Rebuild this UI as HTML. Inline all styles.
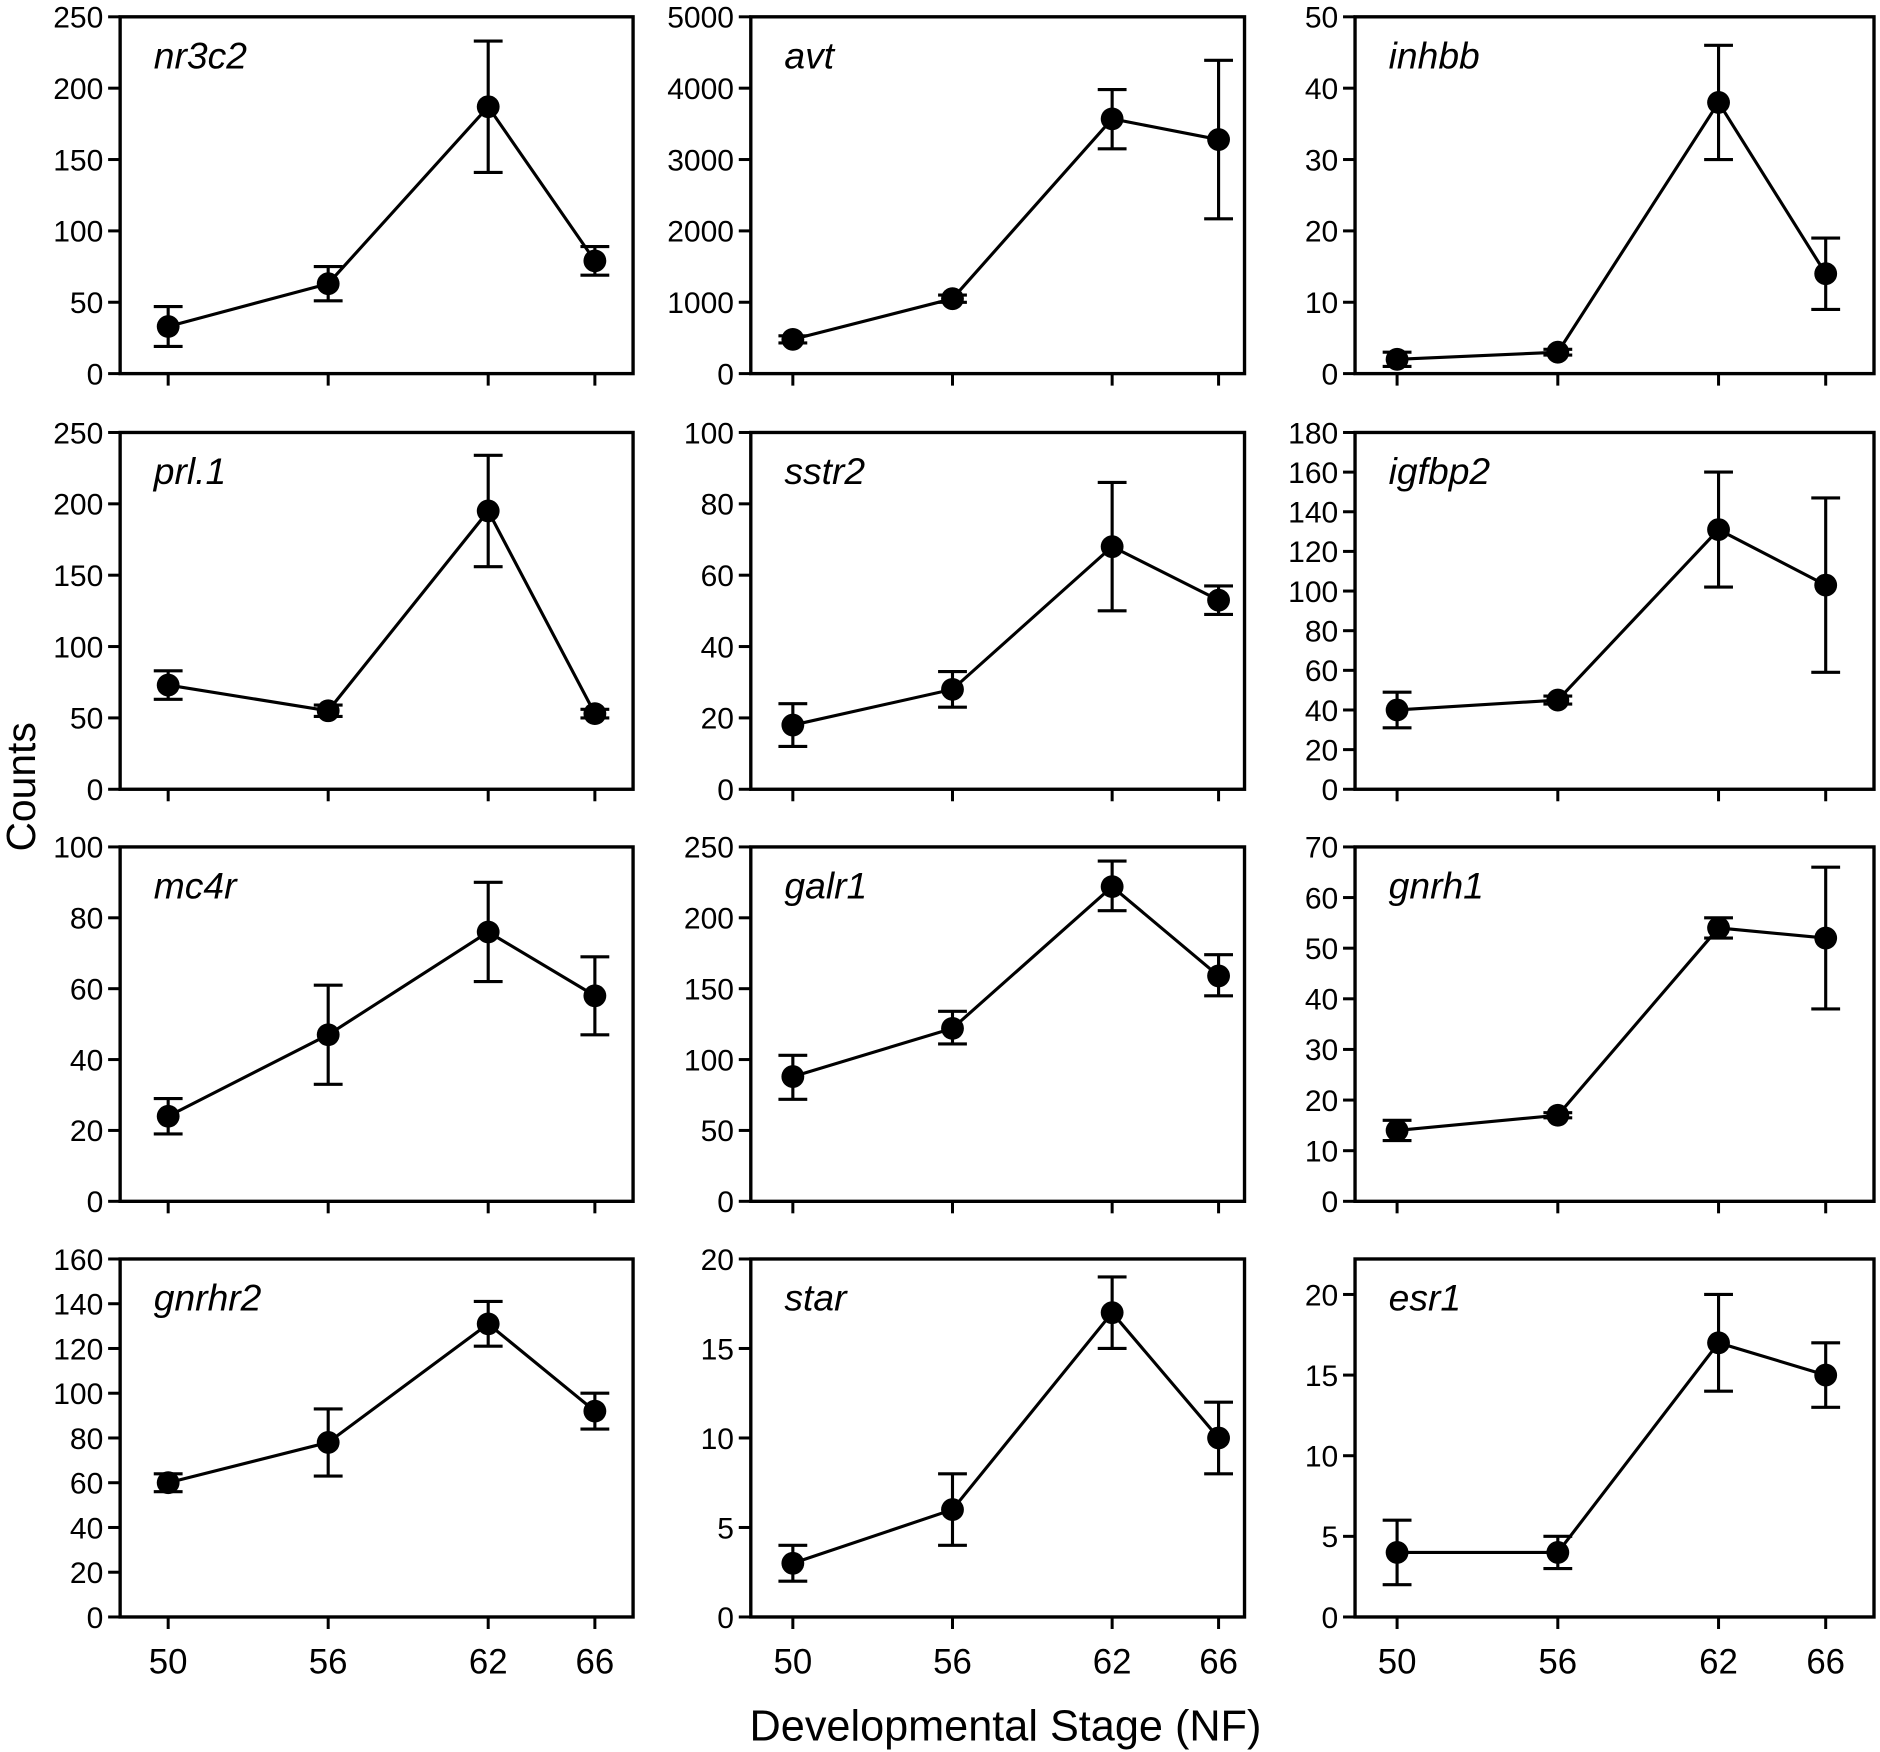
<!DOCTYPE html>
<html><head><meta charset="utf-8"><style>
html,body{margin:0;padding:0;background:#fff}
svg{display:block}
text{font-family:"Liberation Sans",Arial,sans-serif;fill:#000}
</style></head><body>
<svg id="fig" width="1880" height="1752" viewBox="0 0 1565 1458.4" preserveAspectRatio="none" xmlns="http://www.w3.org/2000/svg">
<text x="0" y="0" font-size="34" text-anchor="middle" transform="translate(29,655) rotate(-90)">Counts</text>
<text x="837" y="1449" font-size="36" text-anchor="middle">Developmental Stage (NF)</text>
</svg>
<script>
const stages = [50, 56, 62, 66];
const genes = ["nr3c2","avt","inhbb","prl.1","sstr2","igfbp2","mc4r","galr1","gnrh1","gnrhr2","star","esr1"];
const means = [[33,63,187,79],[480,1050,3570,3280],[2,3,38,14],[73,55,195,53],[18,28,68,53],[40,45,131,103],[24,47,76,58],[88,122,222,159],[14,17,54,52],[60,78,131,92],[3,6,17,10],[4,4,17,15]];
const lows = [[19,51,141,69],[430,1000,3150,2170],[1,2.6,30,9],[63,51,156,50],[12,23,50,49],[31,43,102,59],[19,33,62,47],[72,111,205,145],[12,16.5,52,38],[56,63,121,84],[2,4,15,8],[2,3,14,13]];
const highs = [[47,75,233,89],[530,1100,3980,4390],[3,3.4,46,19],[83,59,234,56],[24,33,86,57],[49,47,160,147],[29,61,90,69],[103,134,240,174],[16,17.5,56,66],[64,93,141,100],[4,8,19,12],[6,5,20,17]];
const yMaxes = [250,5000,50,250,100,180,100,250,70,160,20,22.2];
const yTickMax = [250,5000,50,250,100,180,100,250,70,160,20,20];
const yTickStep = [50,1000,10,50,20,20,20,50,10,20,5,5];
const xTickLabels = ["50","56","62","66"];

const svg = document.getElementById('fig');
const NS = 'http://www.w3.org/2000/svg';
const colL = [100,625,1128], colR = [527,1036,1560];
const colX0 = [140,660,1163], colUnit = [22.2,22.15,22.3];
const rowT = [14,360,705,1048], rowB = [311,657,1000,1346];
function mk(tag, attrs, parent){const e=document.createElementNS(NS,tag);for(const k in attrs)e.setAttribute(k,attrs[k]);(parent||svg).appendChild(e);return e;}

genes.forEach((g,i)=>{
  const c=i%3, r=Math.floor(i/3);
  const L=colL[c], R=colR[c], T=rowT[r], B=rowB[r];
  const x0 = colX0[c], unit=colUnit[c];
  const xs = s => x0+(s-50)*unit;
  const ys = v => B-(v/yMaxes[i])*(B-T);
  const grp = mk('g',{});
  
  
  const fr = mk('rect',{x:L,y:T,width:R-L,height:B-T,fill:'none',stroke:'#000','stroke-width':2.8},grp);
  
  
  const lab = mk('text',{x:L+28,y:T+43,'font-size':31,'font-style':'italic'},grp);
  lab.textContent = g;
  
  
  for(let v=0; v<=yTickMax[i]+1e-9; v+=yTickStep[i]){
    const y=ys(v);
    mk('line',{x1:L-10,x2:L,y1:y,y2:y,stroke:'#000','stroke-width':2.5},grp);
    const t=mk('text',{x:L-14,y:y+9,'font-size':25,'text-anchor':'end'},grp);
    t.textContent=String(v);
    
    
  }
  stages.forEach((s,k)=>{
    const x=xs(s);
    mk('line',{x1:x,x2:x,y1:B,y2:B+10,stroke:'#000','stroke-width':2.5},grp);
    if(r===3){
      const t=mk('text',{x:x,y:B+47,'font-size':29,'text-anchor':'middle'},grp);
      t.textContent=xTickLabels[k];
      
      
    }
  });
  const pts = stages.map((s,k)=>xs(s)+','+ys(means[i][k])).join(' ');
  const ln = mk('polyline',{points:pts,fill:'none',stroke:'#000','stroke-width':2.6},grp);
  
  
  stages.forEach((s,k)=>{
    const x=xs(s), yl=ys(lows[i][k]), yh=ys(highs[i][k]);
    const eb = mk('path',{d:`M${x},${yl}V${yh}M${x-12},${yl}H${x+12}M${x-12},${yh}H${x+12}`,stroke:'#000','stroke-width':2.6,fill:'none'},grp);
    
    
    const p = mk('circle',{cx:x,cy:ys(means[i][k]),r:9.5,fill:'#000'},grp);
    
    
  });
});
</script>
</body></html>
